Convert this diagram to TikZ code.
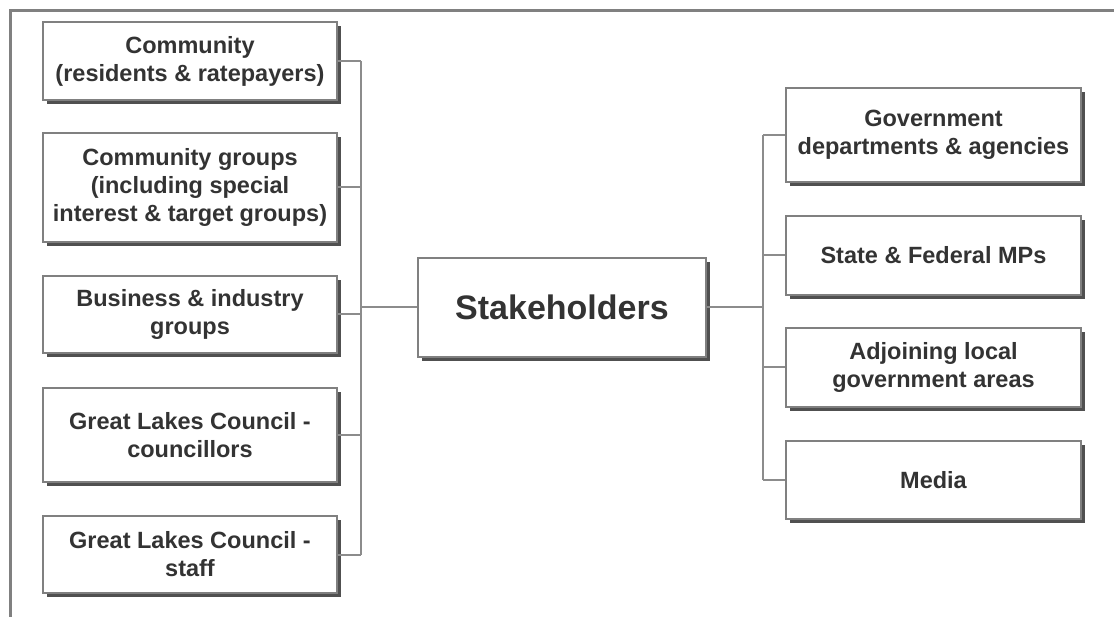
\documentclass[tikz,border=0pt]{standalone}
\usepackage{fontspec}
\setmainfont{Liberation Sans}
\usepackage{xcolor}
\usepackage{tikz}
\definecolor{linegray}{RGB}{128, 128, 128}
\definecolor{wiregray}{RGB}{140, 140, 140}
\definecolor{shadegray}{RGB}{80, 80, 80}
\definecolor{textgray}{RGB}{51, 51, 51}
\usetikzlibrary{shadows, positioning, calc}

\tikzset{
    party/.style={draw=linegray, fill=white, line width=1.8pt, align=center,
                  text=textgray, font=\bfseries\fontsize{23.5}{28}\selectfont,
                  inner sep=0pt,
                  drop shadow={shadow xshift=4pt, shadow yshift=-4pt,
                               fill=shadegray, opacity=1}},
    link/.style={draw=wiregray, line width=2pt}
}

\begin{document}
\begin{tikzpicture}[x=1pt, y=-1pt]
        \useasboundingbox (0,0) rectangle (1114,617);
        % outer frame
        \draw[linegray, line width=3pt] (1114,11) -- (10,11) -- (10,617);

        % centre
        \node[party, minimum width=288pt, minimum height=99pt,
              font=\bfseries\fontsize{34}{40}\selectfont] (stake) at (562,307.5) {Stakeholders};

        % left column
        \node[party, minimum width=294pt, minimum height=78pt] (community) at (190,61)
            {Community\\(residents \& ratepayers)};
        \node[party, minimum width=294pt, minimum height=109pt] (groups) at (190,187.5)
            {Community groups\\(including special\\interest \& target groups)};
        \node[party, minimum width=294pt, minimum height=77pt] (business) at (190,314.5)
            {Business \& industry\\groups};
        \node[party, minimum width=294pt, minimum height=94pt] (councillors) at (190,435)
            {Great Lakes Council -\\councillors};
        \node[party, minimum width=294pt, minimum height=77pt] (staff) at (190,554.5)
            {Great Lakes Council -\\staff};

        % right column
        \node[party, minimum width=295pt, minimum height=94pt] (govt) at (933.5,135)
            {Government\\departments \& agencies};
        \node[party, minimum width=295pt, minimum height=79pt] (mps) at (933.5,255.5)
            {State \& Federal MPs};
        \node[party, minimum width=295pt, minimum height=79pt] (adjoining) at (933.5,367.5)
            {Adjoining local\\government areas};
        \node[party, minimum width=295pt, minimum height=78pt] (media) at (933.5,480)
            {Media};

        % buses
        \coordinate (lbus) at (361,307.5);
        \coordinate (rbus) at (763,307.5);
        \draw[link] (stake.west) -- (lbus);
        \draw[link] (stake.east) -- (rbus);
        \draw[link] (community.east -| lbus) -- (staff.east -| lbus);
        \draw[link] (govt.west -| rbus) -- (media.west -| rbus);
        \foreach \n in {community, groups, business, councillors, staff}
            \draw[link] (\n.east) -- (\n.east -| lbus);
        \foreach \n in {govt, mps, adjoining, media}
            \draw[link] (\n.west) -- (\n.west -| rbus);
    \end{tikzpicture}
\end{document}
